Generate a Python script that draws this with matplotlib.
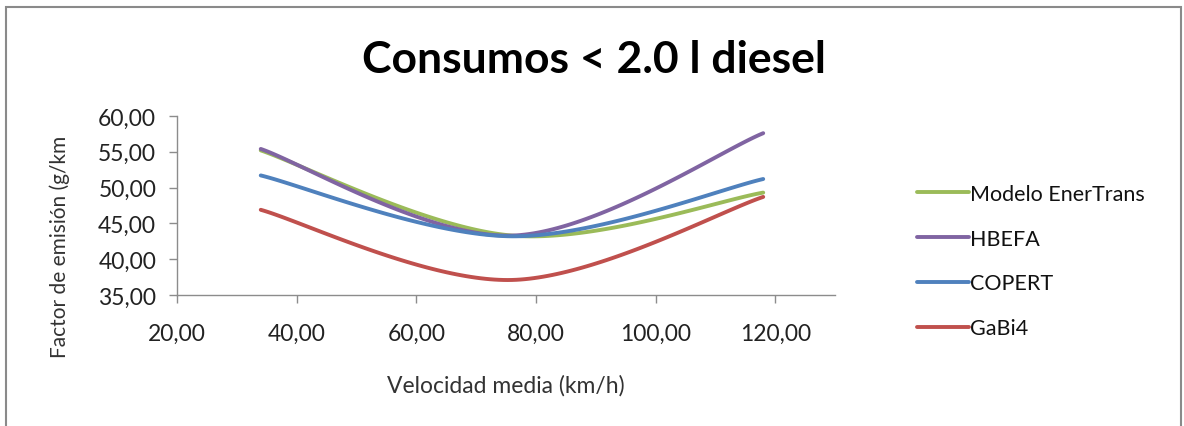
import numpy as np
import matplotlib
matplotlib.use("Agg")
import matplotlib.pyplot as plt
from matplotlib.patches import Rectangle

plt.rcParams['font.family'] = ['Lato', 'DejaVu Sans']

# ---- data ----
velocidad = [34.0, 76.0, 118.0]
series_names = ["Modelo EnerTrans", "HBEFA", "COPERT", "GaBi4"]
enertrans = [55.2, 43.3, 49.3]
hbefa = [55.4, 43.3, 57.6]
copert = [51.7, 43.2, 51.2]
gabi4 = [46.9, 37.1, 48.7]
colors = ["#9BBB59", "#8064A2", "#4F81BD", "#C0504D"]
x_ticks = [20, 40, 60, 80, 100, 120]
y_ticks = [35, 40, 45, 50, 55, 60]


def smooth(xs, ys, n=60):
    """Excel-like smoothed line (Catmull-Rom Bezier) through the points."""
    P = np.column_stack([xs, ys]).astype(float)
    out = []
    for i in range(len(P) - 1):
        p0 = P[i - 1] if i > 0 else P[i]
        p1 = P[i]
        p2 = P[i + 1]
        p3 = P[i + 2] if i + 2 < len(P) else P[i + 1]
        c1 = p1 + (p2 - p0) / 6.0
        c2 = p2 - (p3 - p1) / 6.0
        t = np.linspace(0, 1, n)[:, None]
        seg = ((1 - t) ** 3) * p1 + 3 * ((1 - t) ** 2) * t * c1 + 3 * (1 - t) * t ** 2 * c2 + t ** 3 * p2
        out.append(seg if i == 0 else seg[1:])
    s = np.vstack(out)
    return s[:, 0], s[:, 1]


fig = plt.figure(figsize=(11.84, 4.27), dpi=100)
ax = fig.add_axes([177 / 1184, 1 - 296 / 427, (835 - 177) / 1184, (296 - 117) / 427])

for name, vals, c in zip(series_names, [enertrans, hbefa, copert, gabi4], colors):
    sx, sy = smooth(velocidad, vals)
    ax.plot(sx, sy, color=c, lw=2.8, label=name, solid_capstyle='round')

ax.set_xlim(20, 130)
ax.set_ylim(35, 60)
ax.set_xticks(x_ticks)
ax.set_yticks(y_ticks)
ax.set_xticklabels([f"{v:.2f}".replace('.', ',') for v in x_ticks])
ax.set_yticklabels([f"{v:.2f}".replace('.', ',') for v in y_ticks])
for s in ['top', 'right']:
    ax.spines[s].set_visible(False)
for s in ['left', 'bottom']:
    ax.spines[s].set_color('#8c8c8c')
    ax.spines[s].set_linewidth(1.0)
ax.tick_params(axis='both', colors='#8c8c8c', labelcolor='#222222', labelsize=16.5,
               length=6, direction='out', width=1.0)
ax.tick_params(axis='x', pad=14)
ax.tick_params(axis='y', pad=9)

fig.text(594 / 1184, 1 - 60 / 427, "Consumos < 2.0 l diesel", ha='center', va='center',
         fontsize=32, fontweight='bold', color='black')
fig.text(506 / 1184, 1 - 386 / 427, "Velocidad media (km/h)", ha='center', va='center',
         fontsize=16.5, color='#333333')
fig.text(60 / 1184, 1 - 247 / 427, "Factor de emisión (g/km", ha='center', va='center',
         rotation=90, fontsize=15, color='#333333')

handles, labels = ax.get_legend_handles_labels()
leg = fig.legend(handles, labels, loc='center left', bbox_to_anchor=(898 / 1184, 1 - 262 / 427),
                 frameon=False, fontsize=15.5, handlelength=2.4, handletextpad=0.05,
                 labelspacing=1.15)
for t in leg.get_texts():
    t.set_color('#111111')

fig.patches.append(Rectangle((6 / 1184, -0.05), (1181 - 6) / 1184, 1.05 - 8 / 427,
                             transform=fig.transFigure, fill=False, edgecolor='#8a8a8a',
                             lw=1.5))

fig.savefig("out.png", dpi=100)
